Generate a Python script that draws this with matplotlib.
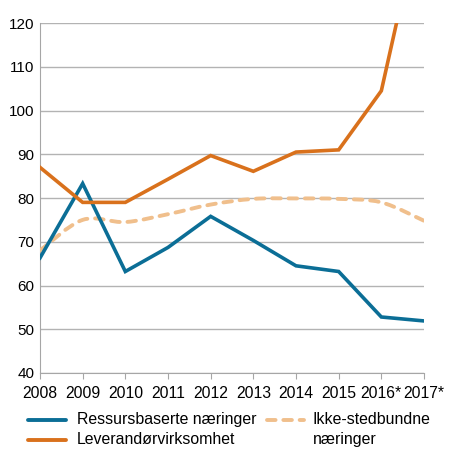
import numpy as np
import matplotlib.pyplot as plt
from matplotlib.path import Path
from matplotlib.patches import PathPatch
from matplotlib.lines import Line2D

plt.rcParams['font.family'] = ['Liberation Sans', 'DejaVu Sans']

years = ['2008', '2009', '2010', '2011', '2012', '2013', '2014', '2015', '2016*', '2017*']
ressurs = [66.3, 83.3, 63.2, 68.7, 75.8, 70.3, 64.5, 63.2, 52.8, 51.9]
leverandor = [87.0, 79.0, 79.0, 84.3, 89.7, 86.1, 90.5, 91.0, 104.5, 148.0]
ikke_sted = [68.0, 75.0, 74.5, 76.3, 78.5, 79.8, 79.9, 79.8, 79.0, 74.8]

blue = '#0b6e96'
orange = '#d9711c'
light = '#f0bf8c'
W, H = 450, 465

x = np.arange(len(years))

fig = plt.figure(figsize=(W / 100, H / 100), dpi=100)
ax = fig.add_axes([40 / W, 1 - 373 / H, 384 / W, 350 / H])

# smooth curve for the dashed series (Catmull-Rom -> bezier)
pts = np.column_stack([x, ikke_sted])
verts = [tuple(pts[0])]
codes = [Path.MOVETO]
for i in range(len(pts) - 1):
    p0 = pts[max(i - 1, 0)]
    p1 = pts[i]
    p2 = pts[i + 1]
    p3 = pts[min(i + 2, len(pts) - 1)]
    c1 = p1 + (p2 - p0) / 6
    c2 = p2 - (p3 - p1) / 6
    verts += [tuple(c1), tuple(c2), tuple(p2)]
    codes += [Path.CURVE4] * 3
patch = PathPatch(Path(verts, codes), fill=False, edgecolor=light, lw=2.8,
                  linestyle=(0, (2.2, 2.0)), capstyle='round', zorder=3)
ax.add_patch(patch)

ax.plot(x, ressurs, color=blue, lw=2.6, zorder=4, solid_joinstyle='miter')
ax.plot(x, leverandor, color=orange, lw=2.6, zorder=4, solid_joinstyle='miter')

ax.set_xlim(0, len(years) - 1)
ax.set_ylim(40, 120)
ax.set_yticks(range(40, 121, 10))
ax.set_xticks(x)
ax.set_xticklabels(years)
ax.yaxis.grid(True, color='#b3b3b3', lw=1)
ax.set_axisbelow(True)
for s in ['top', 'right']:
    ax.spines[s].set_visible(False)
ax.spines['left'].set_color('#a6a6a6')
ax.spines['bottom'].set_color('#a6a6a6')
ax.tick_params(axis='y', length=0, labelsize=11, pad=4)
ax.tick_params(axis='x', length=4, color='#a6a6a6', labelsize=11.3, pad=5)

# legend drawn by hand (pixel positions from the top-left corner)
def fx(px):
    return px / W

def fy(py):
    return 1 - py / H

fig.add_artist(Line2D([fx(28), fx(66)], [fy(419.5)] * 2, color=blue, lw=2.8,
                      transform=fig.transFigure, solid_capstyle='round'))
fig.add_artist(Line2D([fx(28), fx(66)], [fy(439.5)] * 2, color=orange, lw=2.8,
                      transform=fig.transFigure, solid_capstyle='round'))
fig.add_artist(Line2D([fx(267), fx(304)], [fy(419.5)] * 2, color=light, lw=2.8,
                      linestyle=(0, (2.2, 2.0)), dash_capstyle='round',
                      transform=fig.transFigure))
fig.text(fx(77), fy(419.5), 'Ressursbaserte næringer', fontsize=11.4, va='center')
fig.text(fx(77), fy(439.5), 'Leverandørvirksomhet', fontsize=11.4, va='center')
fig.text(fx(313), fy(419.5), 'Ikke-stedbundne', fontsize=11.4, va='center')
fig.text(fx(313), fy(439.5), 'næringer', fontsize=11.4, va='center')

fig.savefig('out.png', dpi=100)
